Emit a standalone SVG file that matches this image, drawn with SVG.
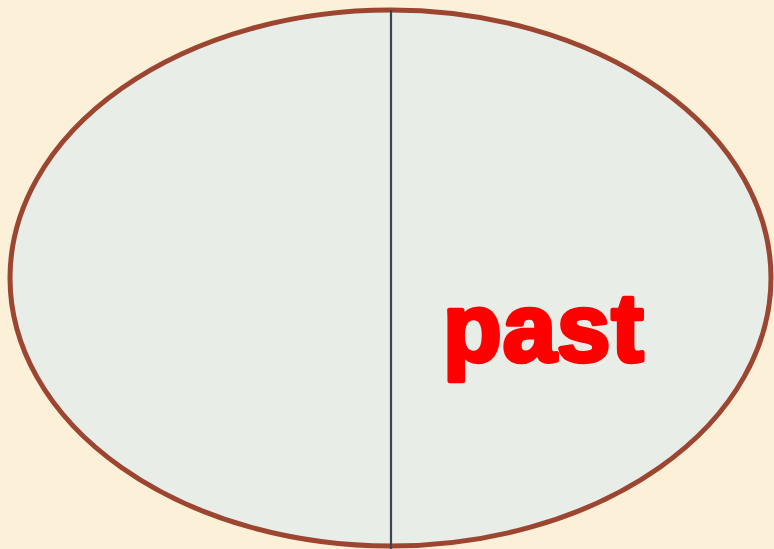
<svg xmlns="http://www.w3.org/2000/svg" width="774" height="549" viewBox="0 0 774 549">
<style>
.bg{fill:#fcf0d8}
.oval{fill:#e8ede7;stroke:#9c4530;stroke-width:5}
.div{stroke:#3e4352;stroke-width:2.2}
.lbl{font-family:"Liberation Sans",Arial,sans-serif;font-weight:bold;font-size:96px;fill:#ff0000;stroke:#ff0000;stroke-width:4.5;stroke-linejoin:round;letter-spacing:1px}
</style>
<rect class="bg" x="0" y="0" width="774" height="549"/>
<g id="oval">
<ellipse class="oval" cx="390.5" cy="278" rx="380.5" ry="268"/>
</g>
<g id="connectors">
<line class="div" x1="391" y1="10" x2="391" y2="549"/>
</g>
<g id="label">
<text class="lbl" x="443" y="361">past</text>
</g>
</svg>
